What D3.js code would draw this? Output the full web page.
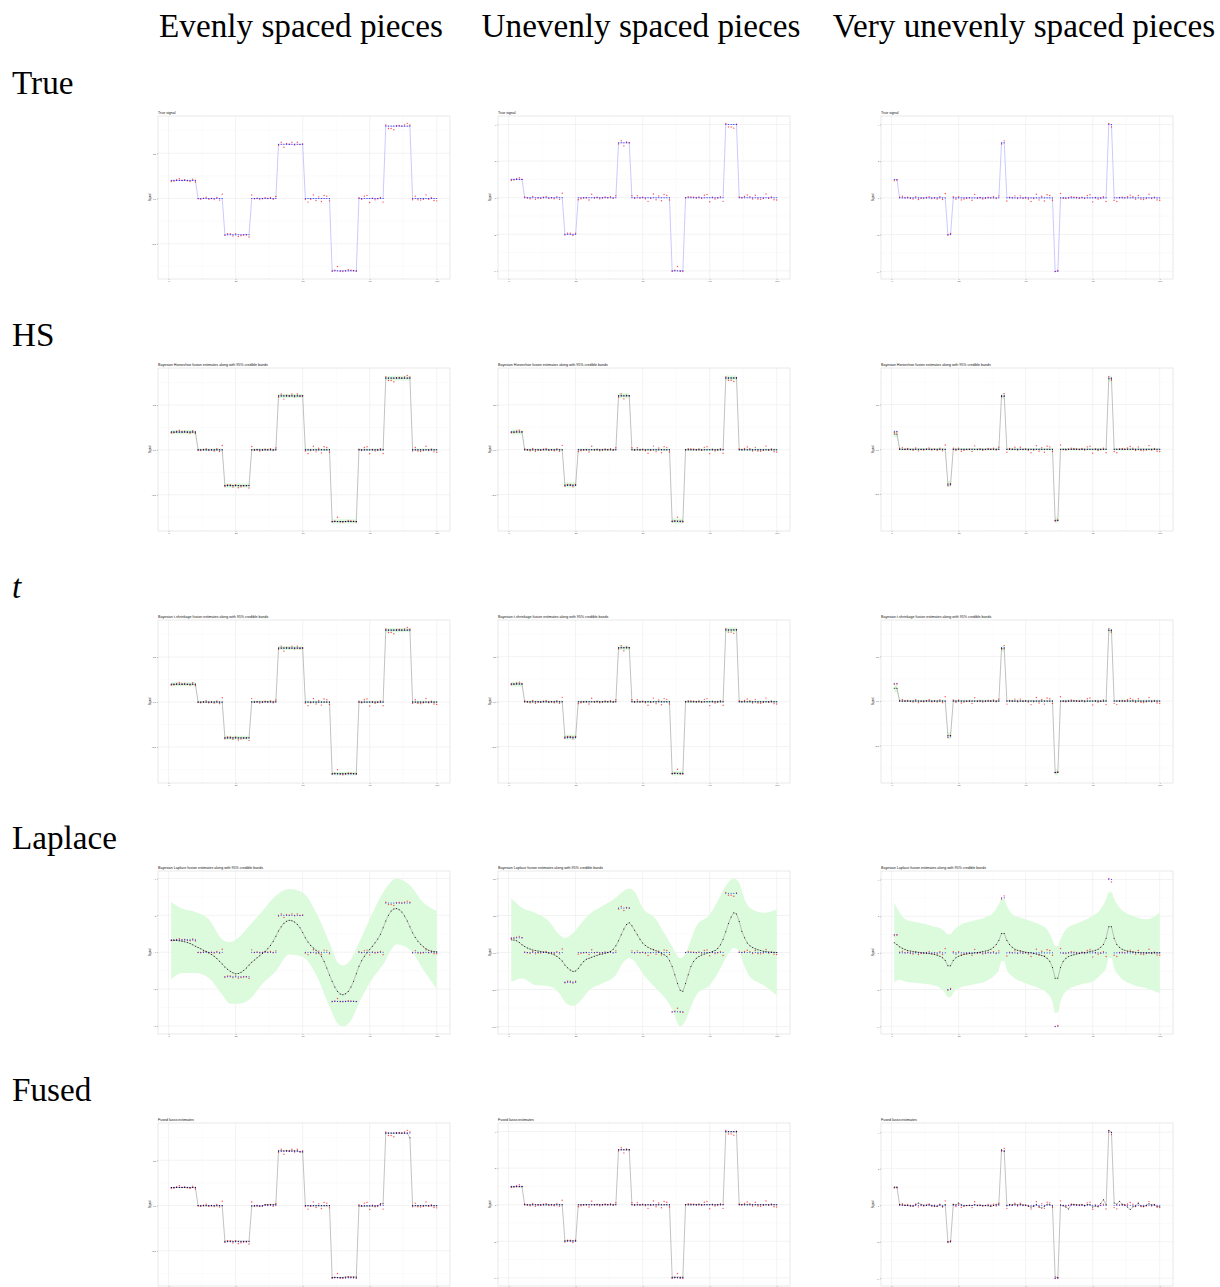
<!DOCTYPE html>
<html>
<head>
<meta charset="utf-8">
<script src="https://cdn.jsdelivr.net/npm/d3@7"></script>
<style>
  body { margin: 0; background: #fff; }
  svg { display: block; }
</style>
</head>
<body>
<script>
// column headers and row names
const columnNames = ["Evenly spaced pieces", "Unevenly spaced pieces", "Very unevenly spaced pieces"]
const rowNames = ["True", "HS", "t", "Laplace", "Fused"]
const rowKinds = ["true", "hs", "t", "laplace", "fused"]
const panelTitles = [
  "True signal",
  "Bayesian Horseshoe fusion estimates along with 95% credible bands",
  "Bayesian t-shrinkage fusion estimates along with 95% credible bands",
  "Bayesian Laplace fusion estimates along with 95% credible bands",
  "Fused lasso estimates"
]

// index of observations
const xs = d3.range(1, 101)
const xTicks = [0, 25, 50, 75, 100]

// true signal, as [from, to, level]
const trueEven = [[1,10,1],[11,20,0],[21,30,-2],[31,40,0],[41,50,3],[51,60,0],[61,70,-4],[71,80,0],[81,90,4],[91,100,0]]
const trueUneven = [[1,5,1],[6,20,0],[21,25,-2],[26,40,0],[41,45,3],[46,60,0],[61,65,-4],[66,80,0],[81,85,4],[86,100,0]]
const trueVeryUneven = [[1,2,1],[3,20,0],[21,22,-2],[23,40,0],[41,42,3],[43,60,0],[61,62,-4],[63,80,0],[81,82,4],[83,100,0]]

// observed data
const obsEven = [0.94,0.96,1.04,1.09,1.00,1.04,0.98,0.94,1.07,0.91,
  -0.02,-0.04,0.02,0.07,-0.04,0.00,-0.06,0.06,-0.09,0.24,
  -2.04,-1.94,-1.94,-2.07,-1.94,-2.11,-2.06,-2.02,-2.00,-2.13,
  0.19,-0.02,0.02,-0.06,-0.02,0.04,0.00,0.06,-0.04,0.11,
  2.94,3.11,2.83,3.04,3.00,3.11,2.96,3.11,2.98,3.02,
  -0.06,-0.20,-0.04,0.20,-0.11,0.09,-0.17,0.17,0.13,-0.13,
  -4.02,-3.96,-3.76,-4.02,-4.04,-4.00,-3.94,-3.96,-3.98,-4.02,
  0.04,-0.04,0.13,0.17,-0.22,0.02,-0.07,-0.02,0.06,-0.20,
  4.06,3.87,3.87,3.80,4.02,4.04,4.00,4.07,4.15,4.06,
  -0.07,0.13,-0.07,-0.09,-0.04,0.20,-0.04,0.04,-0.11,-0.13]
const obsUneven = [0.94,0.96,1.04,1.09,1.00,0.04,-0.02,-0.06,0.07,-0.09,
  -0.02,-0.04,0.02,0.07,-0.04,0.00,-0.06,0.06,-0.09,0.24,
  -2.04,-1.94,-1.94,-2.07,-1.94,-0.11,-0.06,-0.02,0.00,-0.13,
  0.19,-0.02,0.02,-0.06,-0.02,0.04,0.00,0.06,-0.04,0.11,
  2.94,3.11,2.83,3.04,3.00,0.11,-0.04,0.11,-0.02,0.02,
  -0.06,-0.20,-0.04,0.20,-0.11,0.09,-0.17,0.17,0.13,-0.13,
  -4.02,-3.96,-3.76,-4.02,-4.04,0.00,0.06,0.04,0.02,-0.02,
  0.04,-0.04,0.13,0.17,-0.22,0.02,-0.07,-0.02,0.06,-0.20,
  4.06,3.87,3.87,3.80,4.02,0.04,0.00,0.07,0.15,0.06,
  -0.07,0.13,-0.07,-0.09,-0.04,0.20,-0.04,0.04,-0.11,-0.13]
const obsVeryUneven = [0.94,0.96,0.04,0.09,0.00,0.04,-0.02,-0.06,0.07,-0.09,
  -0.02,-0.04,0.02,0.07,-0.04,0.00,-0.06,0.06,-0.09,0.24,
  -2.04,-1.94,0.06,-0.07,0.06,-0.11,-0.06,-0.02,0.00,-0.13,
  0.19,-0.02,0.02,-0.06,-0.02,0.04,0.00,0.06,-0.04,0.11,
  2.94,3.11,-0.17,0.04,0.00,0.11,-0.04,0.11,-0.02,0.02,
  -0.06,-0.20,-0.04,0.20,-0.11,0.09,-0.17,0.17,0.13,-0.13,
  -4.02,-3.96,0.24,-0.02,-0.04,0.00,0.06,0.04,0.02,-0.02,
  0.04,-0.04,0.13,0.17,-0.22,0.02,-0.07,-0.02,0.06,-0.20,
  4.06,3.87,-0.13,-0.20,0.02,0.04,0.00,0.07,0.15,0.06,
  -0.07,0.13,-0.07,-0.09,-0.04,0.20,-0.04,0.04,-0.11,-0.13]

// horseshoe estimates, as [from, to, estimate, half width of band]
const hsEven = [[1,10,0.99,0.12],[11,20,0,0.07],[21,30,-1.99,0.12],[31,40,0,0.07],[41,50,3.01,0.12],[51,60,0,0.07],[61,70,-3.99,0.12],[71,80,0,0.07],[81,90,4.0,0.13],[91,100,0,0.07]]
const hsUneven = [[1,5,0.98,0.14],[6,20,0,0.07],[21,25,-1.97,0.14],[26,40,0,0.07],[41,45,3.0,0.14],[46,60,0,0.07],[61,65,-3.98,0.14],[66,80,0,0.07],[81,85,4.0,0.14],[86,100,0,0.07]]
const hsVeryUneven = [[1,2,0.85,0.18],[3,20,0,0.07],[21,22,-1.95,0.18],[23,40,0,0.07],[41,42,2.97,0.18],[43,60,0,0.07],[61,62,-3.98,0.18],[63,80,0,0.07],[81,82,3.95,0.18],[83,100,0,0.07]]

// t-shrinkage estimates
const tEven = [[1,10,0.99,0.11],[11,20,0,0.07],[21,30,-1.99,0.11],[31,40,0.01,0.07],[41,50,3.01,0.11],[51,60,0,0.07],[61,70,-3.98,0.11],[71,80,0,0.07],[81,90,4.0,0.12],[91,100,0,0.07]]
const tUneven = [[1,5,0.98,0.13],[6,20,0,0.07],[21,25,-1.97,0.13],[26,40,0,0.07],[41,45,3.0,0.13],[46,60,0,0.07],[61,65,-3.98,0.13],[66,80,0,0.07],[81,85,3.99,0.14],[86,100,0,0.07]]
const tVeryUneven = [[1,2,0.72,0.22],[3,20,0,0.07],[21,22,-1.93,0.2],[23,40,0,0.07],[41,42,2.94,0.18],[43,60,0,0.07],[61,62,-4.0,0.18],[63,80,0,0.07],[81,82,3.95,0.18],[83,100,0,0.07]]

// Laplace estimates (one per index) and the band at some knots
const lapEvenEst = [0.98,0.97,0.95,0.93,0.90,0.85,0.78,0.71,0.60,0.49,
  0.38,0.27,0.16,0.05,-0.05,-0.18,-0.33,-0.52,-0.74,-0.97,
  -1.20,-1.39,-1.55,-1.68,-1.75,-1.73,-1.64,-1.48,-1.28,-1.05,
  -0.82,-0.63,-0.46,-0.28,-0.11,0.07,0.27,0.55,0.90,1.30,
  1.72,2.07,2.35,2.52,2.59,2.56,2.45,2.26,1.99,1.60,
  1.17,0.83,0.55,0.34,0.16,-0.06,-0.33,-0.75,-1.28,-1.85,
  -2.37,-2.83,-3.19,-3.40,-3.46,-3.38,-3.19,-2.84,-2.37,-1.75,
  -1.15,-0.70,-0.33,-0.05,0.22,0.49,0.76,1.07,1.45,1.98,
  2.54,3.00,3.35,3.52,3.55,3.46,3.27,2.95,2.54,2.06,
  1.58,1.20,0.90,0.65,0.44,0.28,0.16,0.09,0.05,0.03]
const lapEvenKnots = [1,5,10,15,20,23,26,30,35,40,45,50,55,60,63,65,68,71,75,80,85,90,95,100]
const lapEvenUpper = [4.09,3.55,3.27,2.67,1.04,0.82,1.17,2.13,3.35,4.58,5.13,4.85,3.22,0.76,-0.82,-1.09,-0.60,0.76,2.67,4.85,6.0,5.45,4.04,3.35]
const lapEvenLower = [-2.18,-1.69,-1.69,-2.10,-3.46,-4.20,-4.20,-3.87,-2.56,-1.55,-0.19,-0.38,-1.83,-4.42,-5.78,-6.05,-5.56,-4.15,-2.51,-1.01,0.63,0.22,-1.42,-3.0]

const lapUnevenEst = [0.86,0.84,0.80,0.67,0.52,0.41,0.31,0.23,0.17,0.13,
  0.10,0.07,0.04,0.01,-0.03,-0.08,-0.16,-0.26,-0.39,-0.58,
  -0.84,-1.03,-1.18,-1.28,-1.25,-1.07,-0.82,-0.61,-0.46,-0.38,
  -0.32,-0.25,-0.19,-0.14,-0.10,-0.05,0.00,0.07,0.22,0.45,
  0.80,1.20,1.58,1.89,2.00,1.80,1.50,1.20,0.90,0.64,
  0.48,0.36,0.26,0.19,0.12,0.04,-0.05,-0.15,-0.27,-0.55,
  -0.95,-1.50,-2.09,-2.55,-2.62,-2.10,-1.50,-0.95,-0.60,-0.39,
  -0.27,-0.17,-0.10,-0.04,0.00,0.06,0.14,0.27,0.52,0.90,
  1.40,1.95,2.40,2.68,2.60,2.10,1.43,1.00,0.64,0.45,
  0.34,0.25,0.18,0.13,0.09,0.06,0.04,0.02,0.01,0.00]
const lapUnevenKnots = [1,5,10,15,19,21,24,27,30,35,40,43,45,47,50,55,58,61,64,66,68,70,75,78,81,84,86,88,90,95,100]
const lapUnevenUpper = [3.64,3.02,2.68,2.11,1.20,0.98,1.30,1.95,2.57,3.14,3.70,4.16,4.32,4.10,3.02,2.23,1.32,0.41,-0.39,-0.05,0.86,1.77,2.57,3.48,4.50,5.00,4.70,3.59,3.02,2.68,2.91]
const lapUnevenLower = [-1.98,-1.75,-2.20,-2.27,-2.77,-3.34,-3.61,-3.23,-2.55,-2.09,-1.52,-0.61,-0.39,-0.61,-1.41,-2.43,-3.00,-3.80,-5.00,-4.59,-3.68,-2.89,-2.20,-1.41,-0.39,0.30,0.07,-0.95,-1.64,-2.20,-2.89]

const lapVeryUnevenEst = [0.55,0.45,0.33,0.25,0.18,0.13,0.10,0.07,0.05,0.03,
  0.01,0.00,-0.02,-0.04,-0.06,-0.09,-0.13,-0.18,-0.26,-0.42,
  -0.70,-0.70,-0.42,-0.26,-0.18,-0.13,-0.09,-0.06,-0.04,-0.02,
  0.00,0.02,0.04,0.07,0.10,0.14,0.20,0.30,0.45,0.68,
  1.06,1.06,0.68,0.45,0.30,0.20,0.14,0.10,0.07,0.04,
  0.02,0.00,-0.03,-0.06,-0.10,-0.14,-0.20,-0.30,-0.46,-0.80,
  -1.38,-1.38,-0.80,-0.46,-0.30,-0.20,-0.14,-0.10,-0.06,-0.03,
  0.00,0.02,0.04,0.07,0.10,0.14,0.20,0.30,0.46,0.80,
  1.43,1.43,0.80,0.46,0.30,0.20,0.14,0.10,0.07,0.05,
  0.03,0.02,0.01,0.01,0.00,0.00,0.00,0.00,0.00,0.00]
const lapVeryUnevenKnots = [1,3,5,10,15,19,20,21,22,23,25,30,35,38,40,41,42,43,45,50,55,58,60,61,62,63,65,70,75,78,80,81,82,83,85,90,95,100]
const lapVeryUnevenUpper = [2.75,2.2,1.83,1.65,1.47,1.28,1.14,1.01,1.01,1.2,1.47,1.74,1.93,2.2,2.66,2.94,2.94,2.57,2.11,1.83,1.56,1.28,0.73,0.37,0.37,0.73,1.28,1.65,2.02,2.39,2.94,3.3,3.3,2.94,2.48,2.02,1.83,2.2]
const lapVeryUnevenLower = [-1.61,-1.47,-1.56,-1.65,-1.74,-2.02,-2.2,-2.42,-2.42,-2.17,-1.93,-1.74,-1.56,-1.28,-0.92,-0.46,-0.46,-0.92,-1.28,-1.65,-1.93,-2.2,-2.66,-3.27,-3.27,-2.66,-2.11,-1.74,-1.56,-1.19,-0.83,-0.28,-0.28,-0.83,-1.28,-1.74,-1.93,-2.2]

// fused lasso estimates
const fusedEven = [[1,10,0.99],[11,20,-0.02],[21,30,-1.97],[31,35,-0.03],[36,40,0.05],[41,48,3.02],[49,50,2.96],[51,60,-0.02],[61,65,-3.98],[66,70,-3.95],[71,78,-0.03],[79,80,0.10],[81,89,4.0],[90,90,3.75],[91,100,-0.02]]
const fusedUneven = [[1,5,0.98],[6,20,-0.01],[21,25,-1.97],[26,40,0.0],[41,45,3.0],[46,60,-0.01],[61,65,-3.96],[66,80,0.0],[81,85,3.98],[86,100,0.0]]
const fusedVeryUneven = [0.99,0.99,0.02,0.02,0.00,-0.02,-0.04,-0.04,0.02,0.12,
  0.05,0.00,0.00,0.03,-0.03,-0.06,-0.06,0.02,-0.08,0.04,
  -2.00,-2.00,0.04,0.02,0.12,0.02,-0.03,-0.02,-0.02,-0.02,
  0.04,0.00,0.00,-0.02,-0.02,-0.03,-0.07,-0.02,0.05,0.05,
  3.04,2.95,-0.03,0.02,0.02,0.06,0.02,0.06,0.02,0.00,
  -0.04,-0.10,-0.05,0.05,-0.08,-0.15,-0.05,0.06,0.04,-0.04,
  -3.93,-3.98,0.02,-0.03,-0.10,-0.20,0.05,0.04,0.02,0.02,
  0.02,-0.02,0.04,0.04,-0.10,-0.04,-0.08,0.10,0.30,0.02,
  4.10,4.00,0.12,0.06,0.22,0.05,0.02,-0.10,-0.24,-0.08,
  -0.04,0.10,-0.04,-0.06,0.00,0.08,0.02,0.02,-0.06,-0.08]

// y breaks of each panel, row by row
const yTicksTrue = [[-2.5,0,2.5],[-4,-2,0,2,4],[-4,-2,0,2,4]]
const yTicksHS = [[-2.5,0,2.5],[-2.5,0,2.5],[-2.5,0,2.5]]
const yTicksT = [[-2.5,0,2.5],[-2.5,0,2.5],[-2.5,0,2.5]]
const yTicksLaplace = [[-6,-3,0,3,6],[-5,-2.5,0,2.5,5],[-4,-2,0,2,4]]
const yTicksFused = [[-2.5,0,2.5],[-4,-2,0,2,4],[-4,-2,0,2,4]]

// layout
const W = 1220, H = 1287
const panelW = 292, panelH = 163
const colLeft = [158, 498, 881]
const rowTop = [116, 368, 620, 871, 1123]

const truthSets = [trueEven, trueUneven, trueVeryUneven]
const obsSets = [obsEven, obsUneven, obsVeryUneven]
const hsSets = [hsEven, hsUneven, hsVeryUneven]
const tSets = [tEven, tUneven, tVeryUneven]
const lapSets = [
  {est: lapEvenEst, knots: lapEvenKnots, lo: lapEvenLower, hi: lapEvenUpper},
  {est: lapUnevenEst, knots: lapUnevenKnots, lo: lapUnevenLower, hi: lapUnevenUpper},
  {est: lapVeryUnevenEst, knots: lapVeryUnevenKnots, lo: lapVeryUnevenLower, hi: lapVeryUnevenUpper}
]
const fusedSets = [fusedEven, fusedUneven, fusedVeryUneven]
const yTickSets = [yTicksTrue, yTicksHS, yTicksT, yTicksLaplace, yTicksFused]

// turn [from, to, value] pieces into one value per index
function expand(segs, k = 2) {
  const out = []
  segs.forEach(s => { for (let i = s[0]; i <= s[1]; i++) out.push(s[k]) })
  return out
}

const svg = d3.select("body").append("svg")
  .attr("width", W).attr("height", H)
  .attr("viewBox", `0 0 ${W} ${H}`)

svg.append("rect").attr("width", W).attr("height", H).attr("fill", "#fff")

function tickLabel(ticks) {
  const dec = ticks.some(t => !Number.isInteger(t)) ? 1 : 0
  return d => d.toFixed(dec).replace("-", "\u2212")
}

function drawPanel(r, c) {
  const left = colLeft[c], top = rowTop[r], kind = rowKinds[r]
  const truth = expand(truthSets[c])
  const obs = obsSets[c]
  let est = null, band = null, bandCurve = d3.curveLinear

  if (kind == "hs" || kind == "t") {
    const segs = kind == "hs" ? hsSets[c] : tSets[c]
    est = expand(segs)
    const hw = expand(segs, 3)
    band = xs.map((x, i) => ({x: x, lo: est[i] - hw[i], hi: est[i] + hw[i]}))
  } else if (kind == "laplace") {
    const L = lapSets[c]
    est = L.est
    band = L.knots.map((x, i) => ({x: x, lo: L.lo[i], hi: L.hi[i]}))
    bandCurve = d3.curveMonotoneX
  } else if (kind == "fused") {
    const f = fusedSets[c]
    est = Array.isArray(f[0]) ? expand(f) : f
  }

  // y range from everything drawn, with ggplot's 5% expansion
  let all = truth.concat(obs)
  if (est) all = all.concat(est)
  if (band) band.forEach(b => all.push(b.lo, b.hi))
  const [ymin, ymax] = d3.extent(all)
  const pad = (ymax - ymin) * 0.05

  const x = d3.scaleLinear().domain([1 - 4.95, 100 + 4.95]).range([left, left + panelW])
  const y = d3.scaleLinear().domain([ymin - pad, ymax + pad]).range([top + panelH, top])

  const g = svg.append("g")
  const yTicks = yTickSets[r][c]
  const step = yTicks[1] - yTicks[0]
  const yMinor = yTicks.map(t => t - step / 2).concat([yTicks[yTicks.length - 1] + step / 2])
    .filter(v => v > y.domain()[0] && v < y.domain()[1])
  const xMinor = [12.5, 37.5, 62.5, 87.5]

  // grid
  g.selectAll(".ymin").data(yMinor).join("line")
    .attr("x1", left).attr("x2", left + panelW)
    .attr("y1", d => y(d)).attr("y2", d => y(d))
    .attr("stroke", "#f3f3f3").attr("stroke-width", 0.35)
  g.selectAll(".xmin").data(xMinor).join("line")
    .attr("y1", top).attr("y2", top + panelH)
    .attr("x1", d => x(d)).attr("x2", d => x(d))
    .attr("stroke", "#f3f3f3").attr("stroke-width", 0.35)
  g.selectAll(".ymaj").data(yTicks).join("line")
    .attr("x1", left).attr("x2", left + panelW)
    .attr("y1", d => y(d)).attr("y2", d => y(d))
    .attr("stroke", "#ebebeb").attr("stroke-width", 0.6)
  g.selectAll(".xmaj").data(xTicks).join("line")
    .attr("y1", top).attr("y2", top + panelH)
    .attr("x1", d => x(d)).attr("x2", d => x(d))
    .attr("stroke", "#ebebeb").attr("stroke-width", 0.6)

  // credible band
  if (band) {
    g.append("path").datum(band)
      .attr("fill", "#dcfadc")
      .attr("d", d3.area().curve(bandCurve).x(d => x(d.x)).y0(d => y(d.lo)).y1(d => y(d.hi)))
  }

  const line = d3.line().x((d, i) => x(xs[i])).y(d => y(d))

  if (kind == "true") {
    g.append("path").datum(truth)
      .attr("fill", "none").attr("stroke", "#bcbcff").attr("stroke-width", 0.8)
      .attr("d", line)
  } else {
    g.append("path").datum(est)
      .attr("fill", "none").attr("stroke", "#9b9b9b").attr("stroke-width", 0.6)
      .attr("d", line)
  }

  // observed, true and estimated points
  g.selectAll(".obs").data(obs).join("circle")
    .attr("cx", (d, i) => x(xs[i])).attr("cy", d => y(d)).attr("r", 0.7)
    .attr("fill", "#ff0000").attr("fill-opacity", 0.7)
  g.selectAll(".tru").data(truth).join("circle")
    .attr("cx", (d, i) => x(xs[i])).attr("cy", d => y(d)).attr("r", 0.55)
    .attr("fill", "#0000ff").attr("fill-opacity", 0.85)
  if (est) {
    g.selectAll(".est").data(est).join("circle")
      .attr("cx", (d, i) => x(xs[i])).attr("cy", d => y(d)).attr("r", 0.5)
      .attr("fill", "#000")
  }

  // panel border
  g.append("rect")
    .attr("x", left).attr("y", top).attr("width", panelW).attr("height", panelH)
    .attr("fill", "none").attr("stroke", "#d9d9d9").attr("stroke-width", 0.6)

  // axes (the x labels of the last row fall below the page, as in the figure)
  const ya = g.append("g").attr("transform", `translate(${left},0)`)
    .call(d3.axisLeft(y).tickValues(yTicks).tickSize(1).tickPadding(0.8).tickFormat(tickLabel(yTicks)))
  const xa = g.append("g").attr("transform", `translate(0,${top + panelH})`)
    .call(d3.axisBottom(x).tickValues(xTicks).tickSize(1).tickPadding(0.6).tickFormat(d3.format("d")))
  if (top + panelH + 4 > H) xa.selectAll(".tick text").remove()
  ;[ya, xa].forEach(a => {
    a.select(".domain").remove()
    a.selectAll(".tick line").attr("stroke", "#444").attr("stroke-width", 0.3)
    a.selectAll(".tick text").attr("fill", "#4d4d4d")
      .attr("font-size", 2.4).attr("font-family", "Liberation Sans, Arial, sans-serif")
  })

  // axis title and plot title
  g.append("text")
    .attr("transform", `translate(${left - 7.2},${top + panelH / 2}) rotate(-90)`)
    .attr("text-anchor", "middle").attr("font-size", 2.7)
    .attr("font-family", "Liberation Sans, Arial, sans-serif").attr("fill", "#222")
    .text("Signal")
  g.append("text")
    .attr("x", left).attr("y", top - 2.2)
    .attr("font-size", 3.6).attr("font-family", "Liberation Sans, Arial, sans-serif").attr("fill", "#111")
    .text(panelTitles[r])
}

rowNames.forEach((_, r) => columnNames.forEach((_, c) => drawPanel(r, c)))

// big serif labels, sized so the first header spans its width in the figure
const probe = svg.append("text").attr("font-family", "Liberation Serif, serif").attr("font-size", 30).text(columnNames[0])
const bigSize = 30 * 284 / probe.node().getComputedTextLength()
probe.remove()

svg.selectAll(".colhead").data(columnNames).join("text")
  .attr("x", (d, i) => colLeft[i] + panelW / 2 - 3)
  .attr("y", 37)
  .attr("text-anchor", "middle")
  .attr("font-family", "Liberation Serif, serif").attr("font-size", bigSize)
  .attr("fill", "#000")
  .text(d => d)

svg.selectAll(".rowhead").data(rowNames).join("text")
  .attr("x", 12)
  .attr("y", (d, i) => rowTop[i] - 22)
  .attr("font-family", "Liberation Serif, serif").attr("font-size", bigSize)
  .attr("font-style", d => d == "t" ? "italic" : "normal")
  .attr("fill", "#000")
  .text(d => d)
</script>
